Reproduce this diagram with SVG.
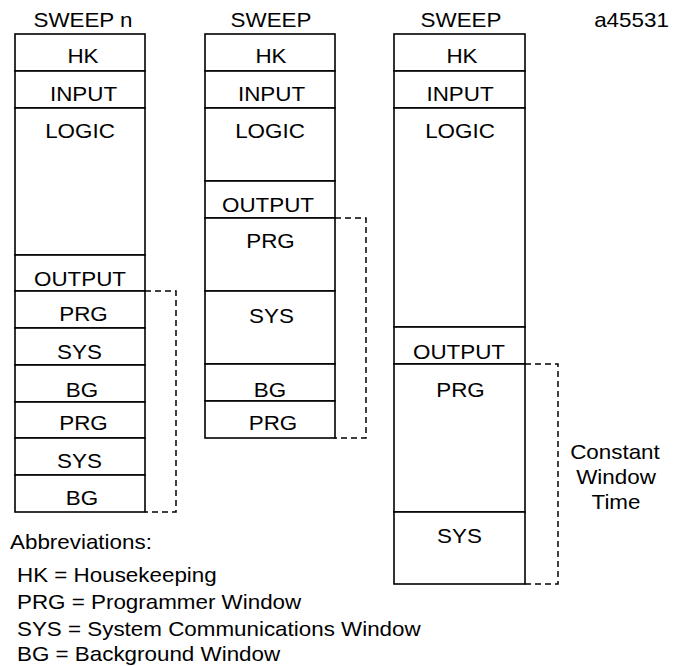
<svg xmlns="http://www.w3.org/2000/svg" width="674" height="666" viewBox="0 0 674 666">
<style>
  .cell{fill:#fff;stroke:#000;stroke-width:1.6}
  .t{font-family:"Liberation Sans",Arial,sans-serif;font-size:20px;fill:#000;text-anchor:middle}
  .l{font-family:"Liberation Sans",Arial,sans-serif;font-size:20px;fill:#000}
  .br{fill:none;stroke:#000;stroke-width:1.5;stroke-dasharray:6 4}
</style>
<rect width="674" height="666" fill="#fff"/>

<g id="sweep-n">
  <text class="t" transform="matrix(1.12 0 0 1 83 27)">SWEEP n</text>
  <rect class="cell" x="15" y="34" width="130" height="37"/>
  <rect class="cell" x="15" y="71" width="130" height="37"/>
  <rect class="cell" x="15" y="108" width="130" height="147"/>
  <rect class="cell" x="15" y="255" width="130" height="36"/>
  <rect class="cell" x="15" y="291" width="130" height="37"/>
  <rect class="cell" x="15" y="328" width="130" height="37"/>
  <rect class="cell" x="15" y="365" width="130" height="37"/>
  <rect class="cell" x="15" y="402" width="130" height="36"/>
  <rect class="cell" x="15" y="438" width="130" height="37"/>
  <rect class="cell" x="15" y="475" width="130" height="37"/>
  <text class="t" transform="matrix(1.12 0 0 1 83 63)">HK</text>
  <text class="t" transform="matrix(1.12 0 0 1 83.5 101)">INPUT</text>
  <text class="t" transform="matrix(1.12 0 0 1 80 138)">LOGIC</text>
  <text class="t" transform="matrix(1.12 0 0 1 80 286)">OUTPUT</text>
  <text class="t" transform="matrix(1.12 0 0 1 83.5 321)">PRG</text>
  <text class="t" transform="matrix(1.12 0 0 1 79.5 359)">SYS</text>
  <text class="t" transform="matrix(1.12 0 0 1 82 397)">BG</text>
  <text class="t" transform="matrix(1.12 0 0 1 83.5 430)">PRG</text>
  <text class="t" transform="matrix(1.12 0 0 1 79.5 468)">SYS</text>
  <text class="t" transform="matrix(1.12 0 0 1 82 505)">BG</text>
</g>

<g id="sweep-2">
  <text class="t" transform="matrix(1.12 0 0 1 271 27)">SWEEP</text>
  <rect class="cell" x="205" y="34" width="130" height="37"/>
  <rect class="cell" x="205" y="71" width="130" height="37"/>
  <rect class="cell" x="205" y="108" width="130" height="73"/>
  <rect class="cell" x="205" y="181" width="130" height="37"/>
  <rect class="cell" x="205" y="218" width="130" height="73"/>
  <rect class="cell" x="205" y="291" width="130" height="73"/>
  <rect class="cell" x="205" y="364" width="130" height="37"/>
  <rect class="cell" x="205" y="401" width="130" height="37"/>
  <text class="t" transform="matrix(1.12 0 0 1 271 63)">HK</text>
  <text class="t" transform="matrix(1.12 0 0 1 271.5 101)">INPUT</text>
  <text class="t" transform="matrix(1.12 0 0 1 270 138)">LOGIC</text>
  <text class="t" transform="matrix(1.12 0 0 1 268 212)">OUTPUT</text>
  <text class="t" transform="matrix(1.12 0 0 1 270.5 248)">PRG</text>
  <text class="t" transform="matrix(1.12 0 0 1 271.5 322.5)">SYS</text>
  <text class="t" transform="matrix(1.12 0 0 1 270 396.5)">BG</text>
  <text class="t" transform="matrix(1.12 0 0 1 273 430)">PRG</text>
</g>

<g id="sweep-3">
  <text class="t" transform="matrix(1.12 0 0 1 461 27)">SWEEP</text>
  <rect class="cell" x="394" y="34" width="131" height="37"/>
  <rect class="cell" x="394" y="71" width="131" height="37"/>
  <rect class="cell" x="394" y="108" width="131" height="219"/>
  <rect class="cell" x="394" y="327" width="131" height="37"/>
  <rect class="cell" x="394" y="364" width="131" height="148"/>
  <rect class="cell" x="394" y="512" width="131" height="72"/>
  <text class="t" transform="matrix(1.12 0 0 1 462 63)">HK</text>
  <text class="t" transform="matrix(1.12 0 0 1 460 101)">INPUT</text>
  <text class="t" transform="matrix(1.12 0 0 1 460 138)">LOGIC</text>
  <text class="t" transform="matrix(1.12 0 0 1 459 359)">OUTPUT</text>
  <text class="t" transform="matrix(1.12 0 0 1 460.5 397)">PRG</text>
  <text class="t" transform="matrix(1.12 0 0 1 459.5 542.5)">SYS</text>
</g>

<g id="connectors">
  <path class="br" d="M145 291 H176 V512 H145"/>
  <path class="br" d="M335 218 H366 V438 H335"/>
  <path class="br" d="M525 364 H558 V584 H525"/>
</g>

<g id="window-label">
  <text class="t" transform="matrix(1.12 0 0 1 615 459)">Constant</text>
  <text class="t" transform="matrix(1.12 0 0 1 616 484)">Window</text>
  <text class="t" transform="matrix(1.12 0 0 1 616 509)">Time</text>
</g>

<g id="figure-id">
  <text class="t" transform="matrix(1.12 0 0 1 631.5 27)">a45531</text>
</g>

<g id="abbreviations">
  <text class="l" transform="matrix(1.12 0 0 1 10 549)">Abbreviations:</text>
  <text class="l" transform="matrix(1.12 0 0 1 17 582)">HK = Housekeeping</text>
  <text class="l" transform="matrix(1.12 0 0 1 17 609)">PRG = Programmer Window</text>
  <text class="l" transform="matrix(1.12 0 0 1 17 636)">SYS = System Communications Window</text>
  <text class="l" transform="matrix(1.12 0 0 1 17 661)">BG = Background Window</text>
</g>
</svg>
